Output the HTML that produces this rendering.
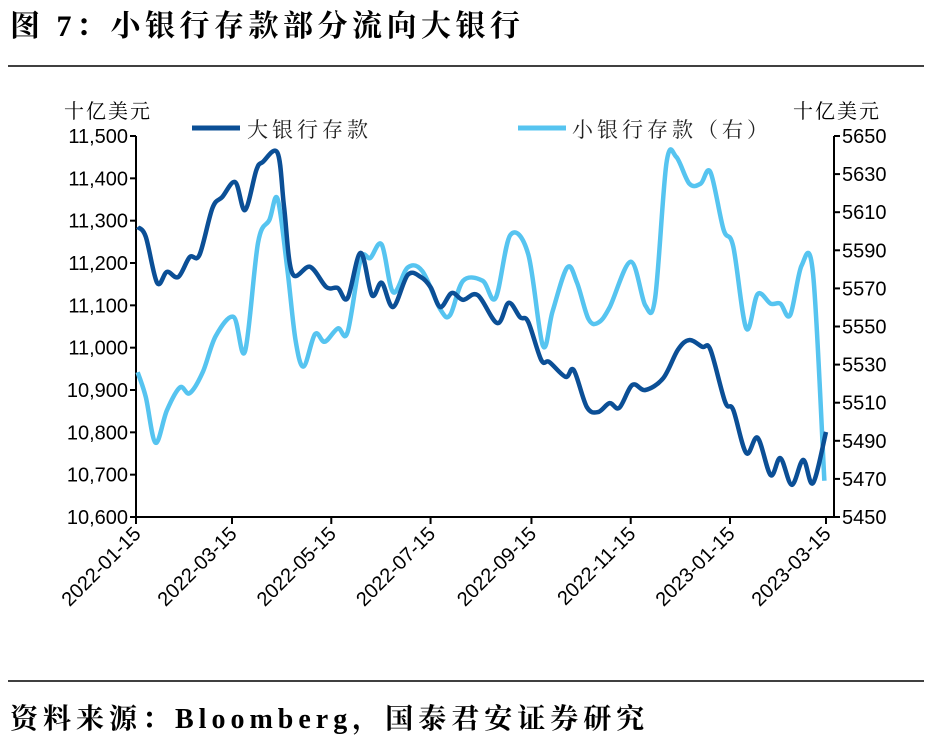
<!DOCTYPE html>
<html><head><meta charset="utf-8">
<style>
body{margin:0;background:#fff;width:930px;height:740px;overflow:hidden;font-family:"Liberation Sans","Noto Sans CJK SC",sans-serif;}
svg{position:absolute;left:0;top:0}
</style></head>
<body>
<svg width="930" height="740">
<text x="10" y="36" font-size="30" letter-spacing="4.5" font-weight="bold" font-family="Liberation Serif, Noto Serif CJK SC, serif">图 7：小银行存款部分流向大银行</text>
<line x1="8" y1="66" x2="924" y2="66" stroke="#000" stroke-width="1.5"/>
<line x1="8" y1="681" x2="924" y2="681" stroke="#000" stroke-width="1.5"/>
<text x="10" y="728" font-size="28" letter-spacing="5" font-weight="bold" font-family="Liberation Serif, Noto Serif CJK SC, serif">资料来源：Bloomberg，国泰君安证券研究</text>
<text x="64" y="118" font-size="20" letter-spacing="2" font-family="Liberation Serif, Noto Serif CJK SC, serif">十亿美元</text>
<text x="793" y="118" font-size="20" letter-spacing="2" font-family="Liberation Serif, Noto Serif CJK SC, serif">十亿美元</text>
<g font-family="Liberation Serif, Noto Serif CJK SC, serif">
<line x1="192" y1="128" x2="240" y2="128" stroke="#0b4f96" stroke-width="5"/>
<text x="247" y="137" font-size="21" letter-spacing="4" fill="#222">大银行存款</text>
<line x1="518" y1="128" x2="566" y2="128" stroke="#56c4f0" stroke-width="5"/>
<text x="572" y="137" font-size="21" letter-spacing="4" fill="#222">小银行存款（右）</text>
</g>
<g id="axes"></g>
<g id="series"></g>
</svg>
<script>
const leftTicks=[10600,10700,10800,10900,11000,11100,11200,11300,11400,11500];
const rightTicks=[5450,5470,5490,5510,5530,5550,5570,5590,5610,5630,5650];
const xTickDays=[0,59,120,181,243,304,365,424];
const xTickLabels=["2022-01-15","2022-03-15","2022-05-15","2022-07-15","2022-09-15","2022-11-15","2023-01-15","2023-03-15"];
const largeDays=[1,6,13,19,26,33,39,47,53,61,67,74,78,87,91,96,107,117,124,130,138,145,151,158,167,175,181,187,194,201,210,222,229,236,241,249,254,264,269,277,284,291,297,305,313,324,333,340,348,353,362,367,375,382,390,396,403,410,416,424];
const largeVals=[11285,11262,11153,11179,11167,11214,11219,11330,11356,11391,11325,11420,11439,11460,11332,11176,11191,11143,11141,11117,11224,11124,11153,11096,11172,11167,11143,11096,11129,11113,11124,11058,11106,11072,11061,10971,10966,10931,10947,10860,10848,10869,10858,10912,10900,10928,10995,11018,11002,10995,10872,10853,10751,10787,10699,10739,10676,10735,10680,10801];
const smallDays=[1,6,12,19,27,33,41,49,60,67,75,82,87,93,98,103,110,116,124,130,138,144,151,158,167,176,187,193,201,213,221,230,241,250,256,265,271,278,284,291,304,313,319,326,332,340,347,353,361,367,375,382,390,396,402,409,416,423];
const smallVals=[5526,5513,5489,5506,5518,5515,5526,5545,5555,5537,5594,5606,5617,5580,5543,5529,5546,5542,5549,5547,5585,5586,5593,5568,5581,5579,5559,5556,5574,5574,5565,5598,5588,5540,5558,5581,5573,5554,5552,5560,5584,5561,5565,5636,5639,5625,5625,5631,5601,5592,5549,5567,5562,5562,5556,5582,5578,5469];

const NS="http://www.w3.org/2000/svg";
const X0=136,X1=826,Y0=517,Y1=136,XR=834;
const xs=d=>X0+(d/424)*(X1-X0);
const yl=v=>Y0-(v-10600)/900*(Y0-Y1);
const yr=v=>Y0-(v-5450)/200*(Y0-Y1);
function mk(tag,attrs,parent){const e=document.createElementNS(NS,tag);for(const k in attrs)e.setAttribute(k,attrs[k]);parent.appendChild(e);return e;}
const ax=document.getElementById('axes');
let e;
e=mk('line',{x1:X0,y1:Y1,x2:X0,y2:Y0,stroke:'#000','stroke-width':2},ax);


e=mk('line',{x1:XR,y1:Y1,x2:XR,y2:Y0,stroke:'#000','stroke-width':2},ax);


e=mk('line',{x1:X0,y1:Y0,x2:XR,y2:Y0,stroke:'#000','stroke-width':2},ax);


leftTicks.forEach(v=>{const y=yl(v);
 mk('line',{x1:X0-6,y1:y,x2:X0,y2:y,stroke:'#000','stroke-width':2},ax);
 const t=mk('text',{x:128,y:y+7,'text-anchor':'end','font-size':20},ax);
 t.textContent=v.toLocaleString('en-US');
 
 
});
rightTicks.forEach(v=>{const y=yr(v);
 mk('line',{x1:XR,y1:y,x2:XR+6,y2:y,stroke:'#000','stroke-width':2},ax);
 const t=mk('text',{x:842,y:y+7,'font-size':20},ax);
 t.textContent=v;
 
 
});
xTickDays.forEach((d,i)=>{const x=xs(d);
 mk('line',{x1:x,y1:Y0,x2:x,y2:Y0+7,stroke:'#000','stroke-width':2},ax);
 const t=mk('text',{x:x+6,y:Y0+18,'text-anchor':'end','font-size':20,transform:`rotate(-45 ${x+6} ${Y0+18})`},ax);
 t.textContent=xTickLabels[i];
 
 
});
function smooth(pts){let d=`M${pts[0][0]},${pts[0][1]}`;
 for(let i=0;i<pts.length-1;i++){const p0=pts[i-1]||pts[i],p1=pts[i],p2=pts[i+1],p3=pts[i+2]||p2;
  const c1=[p1[0]+(p2[0]-p0[0])/6,p1[1]+(p2[1]-p0[1])/6],c2=[p2[0]-(p3[0]-p1[0])/6,p2[1]-(p3[1]-p1[1])/6];
  d+=` C${c1[0]},${c1[1]} ${c2[0]},${c2[1]} ${p2[0]},${p2[1]}`;}
 return d;}
const sg=document.getElementById('series');
e=mk('path',{d:smooth(smallDays.map((d,i)=>[xs(d),yr(smallVals[i])])),fill:'none',stroke:'#56c4f0','stroke-width':4.5,'stroke-linejoin':'round'},sg);


e=mk('path',{d:smooth(largeDays.map((d,i)=>[xs(d),yl(largeVals[i])])),fill:'none',stroke:'#0b4f96','stroke-width':4.5,'stroke-linejoin':'round'},sg);


</script>
</body></html>
